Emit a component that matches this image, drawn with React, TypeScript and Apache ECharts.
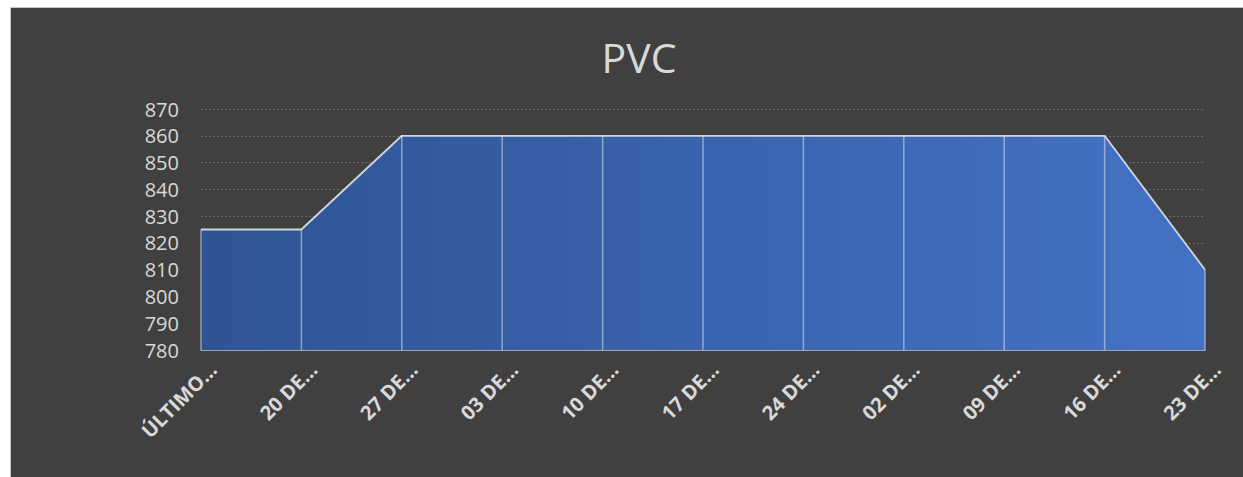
import React, { useEffect, useRef } from "react";
import * as echarts from "echarts";

const titleText = "PVC";
const categories = ["ÚLTIMO…", "20 DE…", "27 DE…", "03 DE…", "10 DE…", "17 DE…", "24 DE…", "02 DE…", "09 DE…", "16 DE…", "23 DE…"];
const prices = [825, 825, 860, 860, 860, 860, 860, 860, 860, 860, 810];
const yMin = 780;
const yMax = 870;
const yStep = 10;

export default function App() {
  const ref = useRef<HTMLDivElement>(null);
  useEffect(() => {
    document.body.style.margin = "0";
    const chart = echarts.init(ref.current!, null, { renderer: "svg" });
    chart.setOption({
      animation: false,
      backgroundColor: "transparent",
      title: {
        text: titleText,
        left: 634,
        textAlign: "center",
        top: 31,
        textStyle: { color: "#d9d9d9", fontSize: 41, fontWeight: "normal", fontFamily: "Open Sans" },
      },
      grid: { left: 201, right: 38, top: 109, bottom: 127, containLabel: false },
      xAxis: {
        type: "category",
        data: categories,
        boundaryGap: false,
        axisLine: { show: true, lineStyle: { color: "#bfbfbf", width: 1.5 } },
        axisTick: { show: false },
        axisLabel: {
          rotate: 45,
          color: "#d9d9d9",
          fontSize: 20,
          fontWeight: "bold",
          fontFamily: "Open Sans",
          margin: 28,
          padding: [0, -17, 0, 0],
          interval: 0,
        },
        splitLine: { show: false },
      },
      yAxis: {
        type: "value",
        min: yMin,
        max: yMax,
        interval: yStep,
        axisLine: { show: false },
        axisTick: { show: false },
        axisLabel: { color: "#d9d9d9", fontSize: 20, lineHeight: 20, fontFamily: "Open Sans", margin: 22 },
        splitLine: { show: true, lineStyle: { color: "#6a6a6a", type: [2, 2], width: 1 } },
      },
      series: [
        {
          type: "line",
          data: prices,
          symbol: "none",
          lineStyle: { color: "#d0d5e0", width: 1.8 },
          areaStyle: {
            opacity: 1,
            color: new echarts.graphic.LinearGradient(0, 0, 1, 0, [
              { offset: 0, color: "#2e5494" },
              { offset: 1, color: "#4472c4" },
            ]),
          },
          z: 2,
        },
        {
          type: "bar",
          data: prices,
          barWidth: 1.5,
          itemStyle: { color: "rgba(220,225,235,0.55)" },
          clip: true,
          z: 3,
          silent: true,
        },
      ],
    });
    return () => chart.dispose();
  }, []);
  return (
    <div style={{ position: "fixed", left: 0, top: 0, width: 1243, height: 477, background: "#ffffff" }}>
      <div
        style={{
          position: "absolute",
          left: 10,
          top: 7,
          width: 1260,
          height: 500,
          background: "#404040",
          border: "1.5px solid #c4c4c4",
        }}
      />
      <div ref={ref} style={{ position: "absolute", left: 0, top: 0, width: 1243, height: 477 }} />
    </div>
  );
}
